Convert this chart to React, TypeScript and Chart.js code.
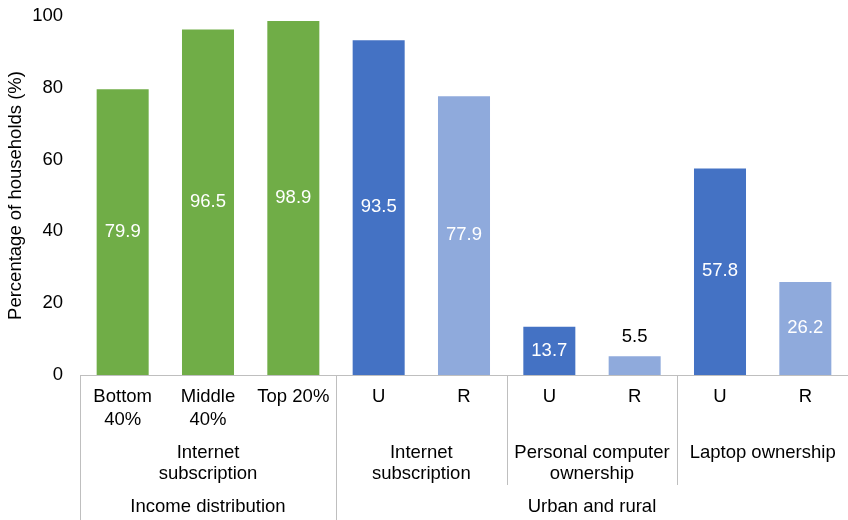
import React, { useEffect, useRef } from "react";
import { Chart, registerables } from "chart.js";

Chart.register(...registerables);

// ---- data ----
const categories: string[][] = [
  ["Bottom", "40%"],
  ["Middle", "40%"],
  ["Top 20%"],
  ["U"],
  ["R"],
  ["U"],
  ["R"],
  ["U"],
  ["R"],
];
const values = [79.9, 96.5, 98.9, 93.5, 77.9, 13.7, 5.5, 57.8, 26.2];
const barColors = [
  "#70AD47",
  "#70AD47",
  "#70AD47",
  "#4472C4",
  "#8FAADC",
  "#4472C4",
  "#8FAADC",
  "#4472C4",
  "#8FAADC",
];
const groupLabels: string[][] = [
  ["Internet", "subscription"],
  ["Internet", "subscription"],
  ["Personal computer", "ownership"],
  ["Laptop ownership"],
];
const groupSpans: number[][] = [
  [0, 2],
  [3, 4],
  [5, 6],
  [7, 8],
];
const superLabels = ["Income distribution", "Urban and rural"];
const superSpans: number[][] = [
  [0, 2],
  [3, 8],
];
const yTicks = [0, 20, 40, 60, 80, 100];
const yTitle = "Percentage of households (%)";

const FONT = "'Liberation Sans', Arial, Helvetica, sans-serif";
const FS = 18.5;
const SEP = "#BFBFBF";

const multiLevelPlugin = {
  id: "multiLevel",
  afterDatasetsDraw(chart: any) {
    const ctx = chart.ctx;
    const x = chart.scales.x;
    const area = chart.chartArea;
    const bottom = Math.round(area.bottom);
    const H = chart.height;
    const step = x.getPixelForValue(1) - x.getPixelForValue(0);
    const boundary = (i: number) => x.getPixelForValue(i) - step / 2;
    const centerOf = (a: number, b: number) =>
      (x.getPixelForValue(a) + x.getPixelForValue(b)) / 2;

    ctx.save();
    // data labels
    const meta = chart.getDatasetMeta(0);
    ctx.font = `${FS}px ${FONT}`;
    ctx.textAlign = "center";
    ctx.textBaseline = "middle";
    meta.data.forEach((bar: any, i: number) => {
      const v = values[i];
      const txt = v.toFixed(1);
      if (v < 10) {
        ctx.fillStyle = "#000000";
        ctx.fillText(txt, bar.x, bar.y - 18);
      } else {
        ctx.fillStyle = "#FFFFFF";
        ctx.fillText(txt, bar.x, (bar.y + bar.base) / 2);
      }
    });

    // axis line
    ctx.strokeStyle = SEP;
    ctx.lineWidth = 1;
    ctx.beginPath();
    ctx.moveTo(area.left, bottom + 0.5);
    ctx.lineTo(area.right, bottom + 0.5);
    ctx.stroke();

    // separators
    const superStarts = superSpans.map((s) => s[0]);
    superStarts.forEach((s) => {
      const bx = Math.round(boundary(s)) + 0.5;
      ctx.beginPath();
      ctx.moveTo(bx, bottom);
      ctx.lineTo(bx, H);
      ctx.stroke();
    });
    groupSpans.forEach((g) => {
      if (superStarts.indexOf(g[0]) >= 0) return;
      const bx = Math.round(boundary(g[0])) + 0.5;
      ctx.beginPath();
      ctx.moveTo(bx, bottom);
      ctx.lineTo(bx, bottom + 110);
      ctx.stroke();
    });

    // level 1 labels
    ctx.fillStyle = "#000000";
    categories.forEach((lines, i) => {
      const cx = x.getPixelForValue(i);
      lines.forEach((ln, k) => {
        ctx.fillText(ln, cx, bottom + 22 + k * 22.5);
      });
    });
    // level 2 labels
    groupLabels.forEach((lines, gi) => {
      const [a, b] = groupSpans[gi];
      const cx = centerOf(a, b);
      lines.forEach((ln, k) => {
        ctx.fillText(ln, cx, bottom + 78 + k * 21);
      });
    });
    // level 3 labels
    superLabels.forEach((ln, si) => {
      const [a, b] = superSpans[si];
      ctx.fillText(ln, centerOf(a, b), bottom + 132);
    });
    ctx.restore();
  },
};

export default function App() {
  const ref = useRef<HTMLCanvasElement | null>(null);
  useEffect(() => {
    if (!ref.current) return;
    const chart = new Chart(ref.current, {
      type: "bar",
      data: {
        labels: categories.map((c) => c.join(" ")),
        datasets: [
          {
            data: values,
            backgroundColor: barColors,
            borderColor: "rgba(255,255,255,0.45)",
            borderWidth: 1,
            barPercentage: 0.633,
            categoryPercentage: 1,
          },
        ],
      },
      options: {
        responsive: false,
        animation: false,
        layout: { padding: { left: 0, right: 0, top: 0, bottom: 0 } },
        plugins: {
          legend: { display: false },
          tooltip: { enabled: false },
          title: { display: false },
        },
        scales: {
          x: {
            type: "category",
            ticks: { display: false },
            grid: { display: false, drawTicks: false },
            border: { display: false },
            afterFit: (s: any) => {
              s.height = 145;
              s.paddingLeft = 0;
              s.paddingRight = 0;
            },
          },
          y: {
            min: 0,
            max: 100,
            afterBuildTicks: (s: any) => {
              s.ticks = yTicks.map((v) => ({ value: v }));
            },
            ticks: {
              padding: 17,
              color: "#000000",
              font: { family: FONT, size: FS },
            },
            grid: { display: false, drawTicks: false },
            border: { display: false },
            title: {
              display: true,
              text: yTitle,
              color: "#000000",
              font: { family: FONT, size: FS },
              padding: { top: 5, bottom: 0 },
            },
            afterFit: (s: any) => {
              s.width = 80;
              s.paddingTop = 16;
              s.paddingBottom = 11;
            },
          },
        },
      },
      plugins: [multiLevelPlugin],
    });
    return () => chart.destroy();
  }, []);

  return (
    <div style={{ position: "absolute", left: 0, top: 0, width: 848, height: 520, background: "#FFFFFF" }}>
      <canvas ref={ref} width={848} height={520} style={{ display: "block" }} />
    </div>
  );
}
